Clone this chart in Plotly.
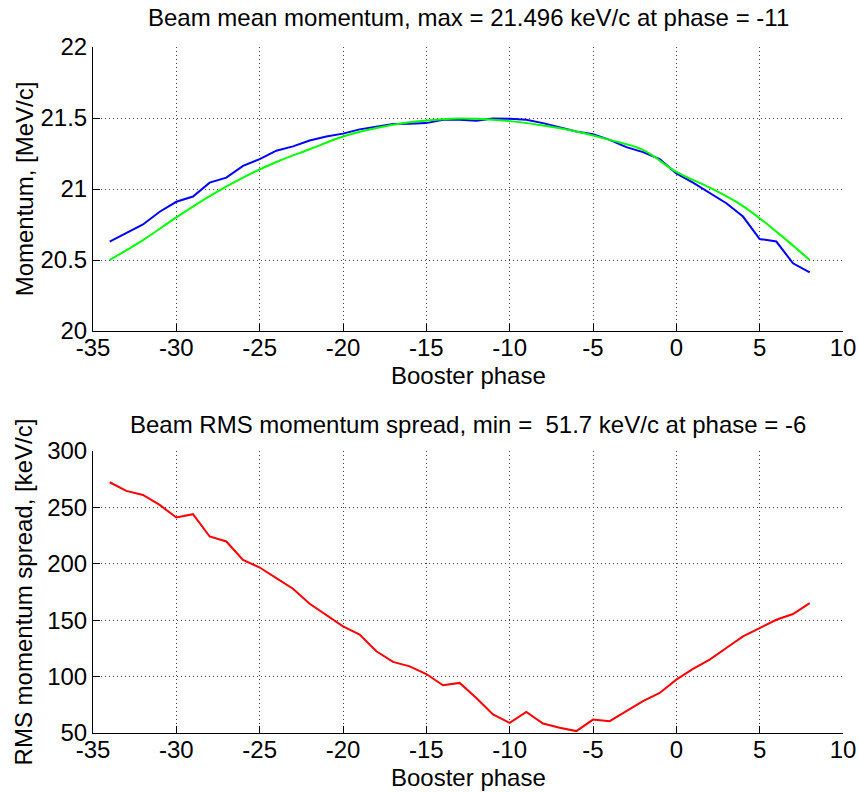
import plotly.graph_objects as go

phase = list(range(-34, 9))

mean_momentum = [20.63, 20.69, 20.75, 20.84, 20.91, 20.947, 21.045, 21.08, 21.163, 21.21,
                 21.27, 21.30, 21.342, 21.37, 21.39, 21.42, 21.44, 21.457, 21.46, 21.464,
                 21.487, 21.487, 21.48, 21.496, 21.495, 21.488, 21.464, 21.436, 21.405, 21.386,
                 21.346, 21.295, 21.26, 21.21, 21.11, 21.045, 20.975, 20.90, 20.806, 20.648,
                 20.63, 20.477, 20.413]

fit_phase = [-34, -32, -30, -28, -26, -24, -22, -20, -18, -16, -14, -13, -12, -10,
             -8, -6, -4, -2, 0, 2, 4, 6, 8]
fit_momentum = [20.50, 20.64, 20.80, 20.95, 21.08, 21.19, 21.28, 21.37, 21.43, 21.47,
                21.492, 21.497, 21.495, 21.478, 21.447, 21.405, 21.346, 21.276, 21.12,
                21.01, 20.88, 20.70, 20.50]

rms_spread = [272.3, 264.6, 261.0, 252.2, 241.0, 244.0, 224.2, 219.8, 203.5, 196.7,
              187.3, 177.9, 164.6, 154.9, 144.5, 137.2, 122.4, 113.0, 109.1, 102.3,
              92.3, 94.4, 81.0, 66.4, 59.0, 68.7, 58.4, 54.6, 51.7, 61.9,
              60.5, 69.3, 78.2, 85.5, 97.3, 106.8, 115.0, 125.4, 135.7, 143.0,
              150.4, 155.5, 165.2]

x_ticks = [-35, -30, -25, -20, -15, -10, -5, 0, 5, 10]
x_tick_text = ["-35", "-30", "-25", "-20", "-15", "-10", "-5", "0", "5", "10"]
top_ticks = [20, 20.5, 21, 21.5, 22]
top_tick_text = ["20", "20.5", "21", "21.5", "22"]
bot_ticks = [50, 100, 150, 200, 250, 300]
bot_tick_text = ["50", "100", "150", "200", "250", "300"]

top_title = "Beam mean momentum, max = 21.496 keV/c at phase = -11"
bot_title = "Beam RMS momentum spread, min =  51.7 keV/c at phase = -6"
x_label = "Booster phase"
top_ylabel = "Momentum, [MeV/c]"
bot_ylabel = "RMS momentum spread, [keV/c]"

W, H = 859, 792
FONT = "Liberation Sans, Arial, sans-serif"
FS = 24

fig = go.Figure()
fig.add_trace(go.Scatter(x=phase, y=mean_momentum, mode="lines",
                         line=dict(color="#0000FF", width=2), xaxis="x", yaxis="y"))
fig.add_trace(go.Scatter(x=fit_phase, y=fit_momentum, mode="lines", line_shape="spline",
                         line=dict(color="#00FF00", width=2), xaxis="x", yaxis="y"))
fig.add_trace(go.Scatter(x=phase, y=rms_spread, mode="lines",
                         line=dict(color="#FF0000", width=2), xaxis="x2", yaxis="y2"))

xd = [93 / W, 843 / W]
top_dom = [1 - 331 / H, 1 - 47 / H]
bot_dom = [1 - 733 / H, 1 - 451 / H]

common_axis = dict(
    showline=True, linecolor="#000000", linewidth=1, mirror=False,
    ticks="inside", ticklen=7, tickcolor="#000000", tickwidth=1,
    showgrid=True, gridcolor="#444444", griddash="1px,3px", gridwidth=1,
    zeroline=False, automargin=False,
    tickfont=dict(family=FONT, size=FS, color="#000000"),
)
title_font = dict(family=FONT, size=FS, color="#000000")

fig.update_layout(
    width=W, height=H,
    margin=dict(l=0, r=0, t=0, b=0),
    paper_bgcolor="white", plot_bgcolor="white",
    showlegend=False,
    xaxis=dict(domain=xd, range=[-35, 10], tickvals=x_ticks, ticktext=x_tick_text,
               anchor="y", ticklabelstandoff=-5, **common_axis),
    yaxis=dict(domain=top_dom, range=[20, 22], tickvals=top_ticks, ticktext=top_tick_text,
               anchor="x", title=dict(text=top_ylabel, font=title_font, standoff=0),
               **common_axis),
    xaxis2=dict(domain=xd, range=[-35, 10], tickvals=x_ticks, ticktext=x_tick_text,
                anchor="y2", ticklabelstandoff=-5, **common_axis),
    yaxis2=dict(domain=bot_dom, range=[50, 300], tickvals=bot_ticks, ticktext=bot_tick_text,
                anchor="x2", title=dict(text=bot_ylabel, font=title_font, standoff=7),
                **common_axis),
)

def ann(text, x, y):
    fig.add_annotation(text=text, xref="paper", yref="paper", x=x / W, y=1 - y / H,
                       xanchor="center", yanchor="middle", showarrow=False,
                       font=dict(family=FONT, size=FS, color="#000000"))

ann(top_title, 468, 18)
ann(bot_title, 468, 424)
ann(x_label, 468, 376)
ann(x_label, 468, 777)

fig.write_html("out.html", config={"displayModeBar": False},
               post_script="document.body.style.margin='0px';")
